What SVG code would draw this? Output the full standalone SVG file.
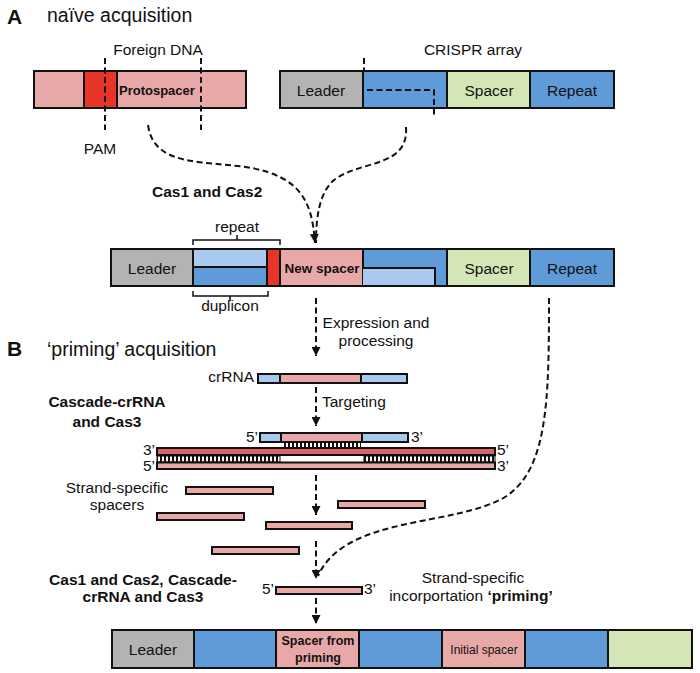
<svg xmlns="http://www.w3.org/2000/svg" width="700" height="673" viewBox="0 0 700 673">
<defs>
<style>
text{font-family:"Liberation Sans",Arial,sans-serif;fill:#111}
.t{font-size:15.5px}
.b{font-weight:bold}
.cell{stroke:#111;stroke-width:2}
.pk{fill:#e8a8a8}
.rd{fill:#e8352a}
.gy{fill:#b3b3b3}
.bl{fill:#5e9bd8}
.lb{fill:#a9c9ee}
.gn{fill:#d4e6b5}
.dr{fill:#d4666b}
.dash{fill:none;stroke:#111;stroke-width:2;stroke-dasharray:6 3.5}
.br{fill:none;stroke:#111;stroke-width:1.5}
</style>
<marker id="ah" viewBox="0 0 10 10" refX="10" refY="5" markerWidth="9" markerHeight="9" markerUnits="userSpaceOnUse" orient="auto">
<path d="M0,0 L10,5 L0,10 Z" fill="#111"/>
</marker>
<pattern id="hatch" width="4" height="10" patternUnits="userSpaceOnUse">
<rect width="4" height="10" fill="#fff"/>
<rect width="2" height="10" fill="#111"/>
</pattern>
</defs>
<rect width="700" height="673" fill="#fff"/>

<!-- Headings -->
<text x="7" y="24" class="b" style="font-size:21px">A</text>
<text x="47" y="22" style="font-size:19.5px">naïve acquisition</text>
<text x="7" y="356" class="b" style="font-size:21px">B</text>
<text x="47" y="356" style="font-size:19.5px">‘priming’ acquisition</text>

<!-- Foreign DNA -->
<g id="foreign-dna">
<text x="158" y="55" class="t" text-anchor="middle">Foreign DNA</text>
<rect x="34" y="71" width="212" height="37" class="cell pk"/>
<rect x="84" y="71" width="33" height="37" class="cell rd"/>
<text x="119" y="95" class="b" style="font-size:13px">Protospacer</text>
<text x="100" y="154" class="t" text-anchor="middle">PAM</text>
</g>

<!-- CRISPR array -->
<g id="crispr-array">
<text x="473" y="55" class="t" text-anchor="middle">CRISPR array</text>
<rect x="280" y="71" width="83" height="37" class="cell gy"/>
<rect x="363" y="71" width="84" height="37" class="cell bl"/>
<rect x="447" y="71" width="83" height="37" class="cell gn"/>
<rect x="530" y="71" width="84" height="37" class="cell bl"/>
<text x="321" y="96" class="t" text-anchor="middle">Leader</text>
<text x="489" y="96" class="t" text-anchor="middle">Spacer</text>
<text x="572" y="96" class="t" text-anchor="middle">Repeat</text>
</g>

<text x="152" y="197" class="t b">Cas1 and Cas2</text>

<!-- Expanded array -->
<g id="expanded-array">
<rect x="111" y="249" width="82" height="37" class="cell gy"/>
<rect x="193" y="249" width="74" height="18" class="cell lb"/>
<rect x="193" y="267" width="74" height="19" class="cell bl"/>
<rect x="267" y="249" width="13" height="37" class="cell rd"/>
<rect x="280" y="249" width="83" height="37" class="cell pk"/>
<rect x="363" y="249" width="84" height="37" class="cell bl"/>
<rect x="363" y="268" width="72" height="18" class="lb"/>
<path d="M363,268 H435 V286" fill="none" stroke="#111" stroke-width="2"/>
<rect x="447" y="249" width="83" height="37" class="cell gn"/>
<rect x="530" y="249" width="84" height="37" class="cell bl"/>
<rect x="111" y="249" width="503" height="37" fill="none" stroke="#111" stroke-width="2"/>
<text x="152" y="274" class="t" text-anchor="middle">Leader</text>
<text x="322" y="273" class="b" style="font-size:13.5px" text-anchor="middle">New spacer</text>
<text x="489" y="274" class="t" text-anchor="middle">Spacer</text>
<text x="572" y="274" class="t" text-anchor="middle">Repeat</text>
<path d="M193,245 V240 H280 V245 M237,240 V235" class="br"/>
<text x="237" y="232" class="t" text-anchor="middle">repeat</text>
<path d="M193,291 V296 H268 V291 M230,296 V301" class="br"/>
<text x="230" y="311" class="t" text-anchor="middle">duplicon</text>
</g>

<text x="376" y="328" class="t" text-anchor="middle">Expression and</text>
<text x="376" y="346" class="t" text-anchor="middle">processing</text>

<!-- crRNA -->
<g id="crrna">
<text x="254" y="382" class="t" text-anchor="end">crRNA</text>
<rect x="258" y="374" width="22" height="9" class="cell lb" stroke-width="1.6"/>
<rect x="280" y="374" width="81" height="9" class="cell pk" stroke-width="1.6"/>
<rect x="361" y="374" width="46" height="9" class="cell lb" stroke-width="1.6"/>
</g>

<text x="322" y="407" class="t">Targeting</text>
<text x="107" y="407" class="t b" text-anchor="middle">Cascade-crRNA</text>
<text x="107" y="427" class="t b" text-anchor="middle">and Cas3</text>

<!-- Target complex -->
<g id="target-complex">
<text x="246" y="442" class="t">5’</text>
<text x="411" y="442" class="t">3’</text>
<rect x="260" y="433" width="21" height="9" class="cell lb" stroke-width="1.6"/>
<rect x="281" y="433" width="81" height="9" class="cell pk" stroke-width="1.6"/>
<rect x="362" y="433" width="46" height="9" class="cell lb" stroke-width="1.6"/>
<rect x="282" y="443" width="79" height="4.5" fill="url(#hatch)"/>
<rect x="157" y="448" width="338" height="7" class="cell dr" stroke-width="1.6"/>
<rect x="157" y="456" width="123" height="6" fill="url(#hatch)" stroke="#111" stroke-width="1"/>
<rect x="364" y="456" width="131" height="6" fill="url(#hatch)" stroke="#111" stroke-width="1"/>
<rect x="157" y="462.5" width="338" height="6.5" class="cell pk" stroke-width="1.6"/>
<text x="143" y="455" class="t">3’</text>
<text x="143" y="471" class="t">5’</text>
<text x="497" y="455" class="t">5’</text>
<text x="497" y="471" class="t">3’</text>
</g>

<!-- Strand-specific spacers -->
<g id="spacers">
<text x="117" y="493" class="t" text-anchor="middle">Strand-specific</text>
<text x="117" y="510" class="t" text-anchor="middle">spacers</text>
<rect x="186" y="487" width="87" height="7" class="cell pk" stroke-width="1.6"/>
<rect x="157" y="513" width="87" height="7" class="cell pk" stroke-width="1.6"/>
<rect x="338" y="501" width="87" height="7" class="cell pk" stroke-width="1.6"/>
<rect x="266" y="522" width="86" height="7" class="cell pk" stroke-width="1.6"/>
<rect x="212" y="547" width="87" height="7" class="cell pk" stroke-width="1.6"/>
</g>

<text x="143" y="585" class="t b" text-anchor="middle">Cas1 and Cas2, Cascade-</text>
<text x="143" y="602" class="t b" text-anchor="middle">crRNA and Cas3</text>

<g id="priming-spacer">
<text x="262" y="594" class="t">5’</text>
<text x="364" y="594" class="t">3’</text>
<rect x="276" y="587" width="86" height="7" class="cell pk" stroke-width="1.6"/>
</g>
<text x="473" y="583" class="t" text-anchor="middle">Strand-specific</text>
<text x="471" y="601" class="t" text-anchor="middle">incorportation <tspan class="b">‘priming’</tspan></text>

<!-- Final array -->
<g id="final-array">
<rect x="112" y="630" width="82" height="38" class="cell gy"/>
<rect x="194" y="630" width="82" height="38" class="cell bl"/>
<rect x="276" y="630" width="83" height="38" class="cell pk"/>
<rect x="359" y="630" width="83" height="38" class="cell bl"/>
<rect x="442" y="630" width="83" height="38" class="cell pk"/>
<rect x="525" y="630" width="83" height="38" class="cell bl"/>
<rect x="608" y="630" width="84" height="38" class="cell gn"/>
<text x="153" y="655" class="t" text-anchor="middle">Leader</text>
<text x="318" y="645" class="b" style="font-size:12.5px" text-anchor="middle">Spacer from</text>
<text x="318" y="662" class="b" style="font-size:12.5px" text-anchor="middle">priming</text>
<text x="484" y="654" style="font-size:12px" text-anchor="middle">Initial spacer</text>
</g>

<!-- Connectors -->
<g id="connectors">
<line x1="105" y1="58" x2="105" y2="130" class="dash" stroke-width="1.6"/>
<line x1="201" y1="58" x2="201" y2="130" class="dash" stroke-width="1.6"/>
<line x1="364" y1="58" x2="364" y2="72" class="dash" stroke-width="1.6"/>
<path d="M367,90 H434 V117" class="dash" stroke-width="1.6"/>
<path d="M148,125 C154,168 205,160 252,168 C300,178 312,200 315,243" class="dash" marker-end="url(#ah)"/>
<path d="M406,127 C409,168 360,160 334,180 C320,192 316,215 316,243" class="dash"/>
<line x1="316" y1="298" x2="316" y2="356" class="dash" marker-end="url(#ah)"/>
<line x1="316" y1="387" x2="316" y2="426" class="dash" marker-end="url(#ah)"/>
<line x1="316" y1="475" x2="316" y2="515" class="dash" marker-end="url(#ah)"/>
<line x1="316" y1="541" x2="316" y2="579" class="dash" marker-end="url(#ah)"/>
<line x1="316" y1="598" x2="316" y2="624" class="dash" marker-end="url(#ah)"/>
<path d="M549,298 C549,400 548,470 505,497 C455,527 345,515 318,576" class="dash"/>
</g>
</svg>
